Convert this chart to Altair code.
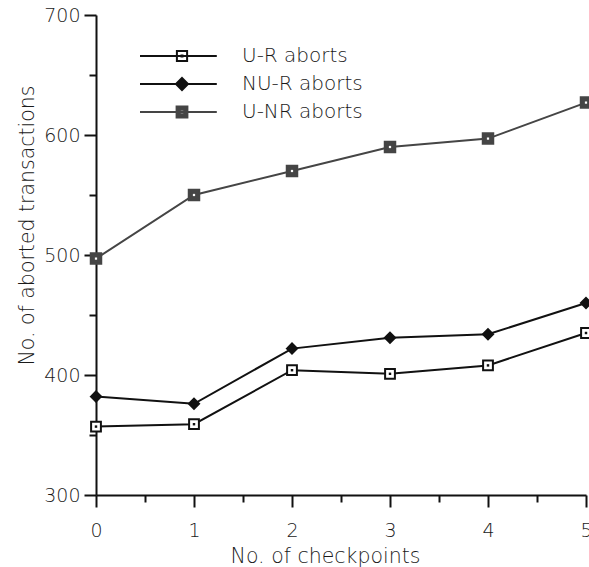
import altair as alt
import pandas as pd

# ---- data ----
checkpoints = [0, 1, 2, 3, 4, 5]
ur_aborts = [357, 359, 404, 401, 408, 435]
nur_aborts = [382, 376, 422, 431, 434, 460]
unr_aborts = [497, 550, 570, 590, 597, 627]
series_names = ["U-R aborts", "NU-R aborts", "U-NR aborts"]
x_major = [0, 1, 2, 3, 4, 5]
x_minor = [0.5, 1.5, 2.5, 3.5, 4.5]
y_major = [300, 400, 500, 600, 700]
y_minor = [350, 450, 550, 650]

rows = []
for name, vals in zip(series_names, [ur_aborts, nur_aborts, unr_aborts]):
    for c, v in zip(checkpoints, vals):
        rows.append({"series": name, "checkpoints": c, "aborts": v})
df = pd.DataFrame(rows)

# ---- styles ----
FONT = "DejaVu Sans"
FW = 300
TXT = "#1a1a1a"
line_colors = ["#111111", "#111111", "#454545"]
line_widths = [2, 2, 2.5]
marker_fill = ["#ffffff", "#111111", "#454545"]
marker_shapes = ["square", "diamond", "square"]
marker_sizes = [96, 110, 112]

# legend symbols: line through marker (unit = 6 px)
LINE = "M-7,0H5.8"
legend_paths = [
    LINE + " M-0.85,-0.85H0.85V0.85H-0.85Z M-0.08,-0.08H0.08V0.08H-0.08Z",
    LINE + " M0,-1L1,0L0,1L-1,0Z",
    LINE + " M-0.9,-0.9H0.9V0.9H-0.9Z M-0.38,-0.38V0.38H0.38V-0.38Z",
]

common_axis = dict(grid=False, domainColor="#111111", domainWidth=2,
                   tickColor="#111111", tickWidth=2)

x_axis = alt.Axis(
    values=x_major, tickSize=12, format="d",
    labelFlush=False, labelOverlap=False, labelPadding=14,
    labelFont=FONT, labelFontSize=19, labelFontWeight=FW, labelColor=TXT,
    title="No. of checkpoints", titleFont=FONT, titleFontSize=20.5,
    titleFontWeight=FW, titleColor=TXT,
    titleX=229, titleY=67, titleBaseline="alphabetic", titleAlign="center",
    orient="bottom", **common_axis,
)
y_axis = alt.Axis(
    values=y_major, tickSize=12, format="d",
    labelOverlap=False, labelPadding=4,
    labelFont=FONT, labelFontSize=19, labelFontWeight=FW, labelColor=TXT,
    title="No. of aborted transactions", titleFont=FONT, titleFontSize=20.5,
    titleFontWeight=FW, titleColor=TXT,
    titleX=-63, titleY=210, titleAngle=-90, titleBaseline="alphabetic",
    titleAlign="center",
    orient="left", **common_axis,
)
x_axis_minor = alt.Axis(values=x_minor, tickSize=7, labels=False, domain=False,
                        title="", grid=False, orient="bottom",
                        tickColor="#111111", tickWidth=2)
y_axis_minor = alt.Axis(values=y_minor, tickSize=7, labels=False, domain=False,
                        title="", grid=False, orient="left",
                        tickColor="#111111", tickWidth=2)

x_scale = alt.Scale(domain=[0, 5], nice=False, zero=False)
y_scale = alt.Scale(domain=[300, 700], nice=False, zero=False)
X = alt.X("checkpoints:Q", scale=x_scale, axis=x_axis)
Y = alt.Y("aborts:Q", scale=y_scale, axis=y_axis)

base = alt.Chart(df)

lines = base.mark_line().encode(
    x=X, y=Y,
    color=alt.Color("series:N", scale=alt.Scale(domain=series_names, range=line_colors), legend=None),
    strokeWidth=alt.StrokeWidth("series:N", scale=alt.Scale(domain=series_names, range=line_widths), legend=None),
    detail="series:N",
)

points = base.mark_point(filled=True, strokeWidth=2, opacity=1).encode(
    x=X, y=Y,
    shape=alt.Shape("series:N", scale=alt.Scale(domain=series_names, range=marker_shapes), legend=None),
    fill=alt.Fill("series:N", scale=alt.Scale(domain=series_names, range=marker_fill), legend=None),
    stroke=alt.Stroke("series:N", scale=alt.Scale(domain=series_names, range=line_colors), legend=None),
    size=alt.Size("series:N", scale=alt.Scale(domain=series_names, range=marker_sizes), legend=None),
)

dot_ur = base.transform_filter(alt.datum.series == series_names[0]).mark_square(
    size=6, color="#111111", opacity=1).encode(x=X, y=Y)
dot_unr = base.transform_filter(alt.datum.series == series_names[2]).mark_square(
    size=5, color="#ffffff", opacity=1).encode(x=X, y=Y)

leg = alt.Legend(
    title=None, orient="none", legendX=76, legendY=31, padding=0,
    symbolSize=144, symbolStrokeWidth=2, symbolOffset=0,
    labelFont=FONT, labelFontSize=20, labelFontWeight=FW, labelColor=TXT, labelOffset=50,
    rowPadding=8, labelLimit=300,
)
legend_layer = base.transform_filter("false").mark_point(filled=True, strokeWidth=2, opacity=1).encode(
    shape=alt.Shape("series:N", scale=alt.Scale(domain=series_names, range=legend_paths), legend=leg),
    fill=alt.Fill("series:N", scale=alt.Scale(domain=series_names, range=marker_fill), legend=leg),
    stroke=alt.Stroke("series:N", scale=alt.Scale(domain=series_names, range=line_colors), legend=leg),
)

main = alt.layer(lines, points, dot_ur, dot_unr, legend_layer).resolve_scale(
    shape="independent", fill="independent", stroke="independent")

# minor ticks: an invisible layer carrying only the minor-tick axes
minor = base.mark_point(opacity=0).encode(
    x=alt.X("checkpoints:Q", scale=x_scale, axis=x_axis_minor),
    y=alt.Y("aborts:Q", scale=y_scale, axis=y_axis_minor),
)

chart = (
    alt.layer(main, minor)
    .resolve_scale(x="independent", y="independent")
    .resolve_axis(x="independent", y="independent")
    .properties(
        width=490, height=480,
        autosize=alt.AutoSizeParams(type="none"),
        padding={"left": 96, "top": 15, "right": 3, "bottom": 72},
        background="white",
    )
    .configure_view(strokeWidth=0)
)

chart.save("out.html", embed_options={"renderer": "svg", "actions": False})
